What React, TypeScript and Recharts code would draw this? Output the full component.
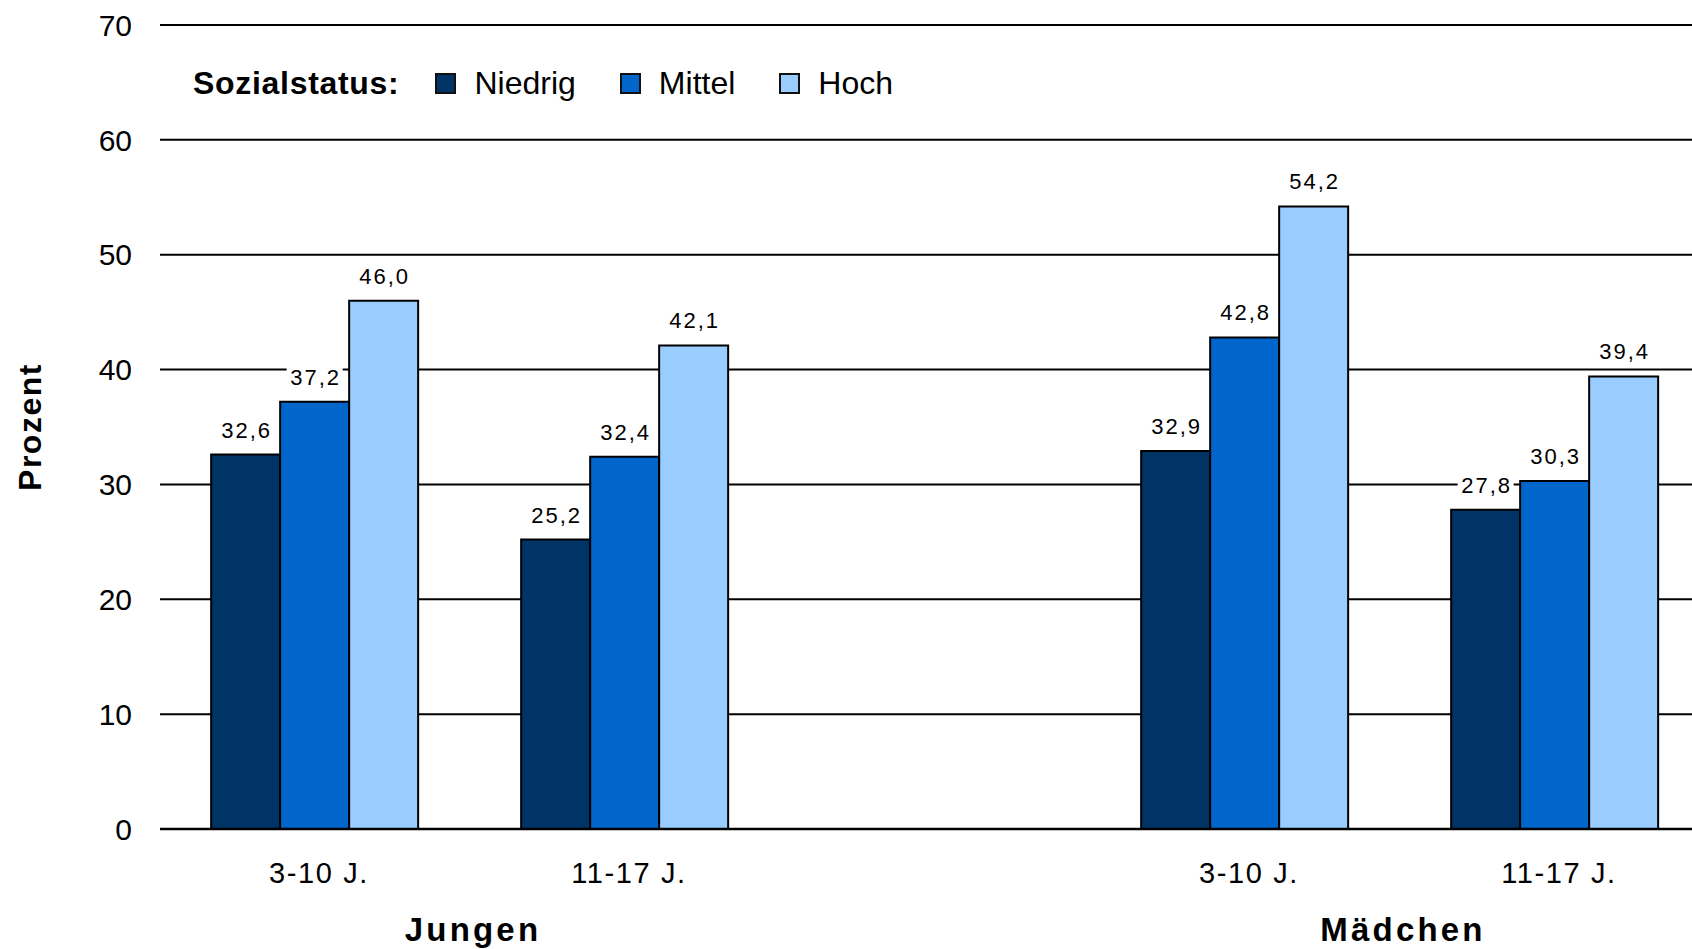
import React from "react";
import { BarChart, Bar, XAxis, YAxis, CartesianGrid, LabelList } from "recharts";

// Werte aus der Grafik (Prozent); die leere Kategorie trennt Jungen und Mädchen
const ALTERSGRUPPEN = ["3-10 J.", "11-17 J.", "", "3-10 J.", "11-17 J."];
const NIEDRIG = [32.6, 25.2, null, 32.9, 27.8];
const MITTEL = [37.2, 32.4, null, 42.8, 30.3];
const HOCH = [46.0, 42.1, null, 54.2, 39.4];

// Geschlecht, mittig zwischen je zwei Altersgruppen (Index-Einheiten)
const GESCHLECHT = ["Jungen", "Mädchen"];
const GESCHLECHT_POS = [0.5, 3.5];

const Y_TICKS = [0, 10, 20, 30, 40, 50, 60, 70];

const SERIEN = [
  { key: "niedrig", name: "Niedrig", farbe: "#003366" },
  { key: "mittel", name: "Mittel", farbe: "#0066CC" },
  { key: "hoch", name: "Hoch", farbe: "#99CCFF" },
];

const daten = ALTERSGRUPPEN.map((alter, i) => ({
  idx: i,
  alter,
  niedrig: NIEDRIG[i],
  mittel: MITTEL[i],
  hoch: HOCH[i],
}));

const FONT = "'Liberation Sans', Arial, Helvetica, sans-serif";

function WertLabel(props: any) {
  const { x, y, width, value } = props;
  if (value == null) return null;
  const cx = Number(x) + Number(width) / 2;
  const text = Number(value).toFixed(1).replace(".", ",");
  const w = text.length * 12 + 8;
  return (
    <g>
      <rect x={cx - w / 2} y={Number(y) - 37} width={w} height={26} fill="#fff" />
      <text x={cx + 1} y={Number(y) - 17} textAnchor="middle" fontSize={22} letterSpacing={2} fill="#000">
        {text}
      </text>
    </g>
  );
}

function AlterTick(props: any) {
  const { x, y, payload } = props;
  const label = ALTERSGRUPPEN[payload.value];
  if (!label) return null;
  return (
    <text x={x + 4} y={y + 54} textAnchor="middle" fontSize={29} letterSpacing={1.6} fill="#000">
      {label}
    </text>
  );
}

function GeschlechtTick(props: any) {
  const { x, y, payload } = props;
  const i = GESCHLECHT_POS.indexOf(payload.value);
  if (i < 0) return null;
  return (
    <text x={x + 3} y={y + 52} textAnchor="middle" fontSize={33} fontWeight="bold" letterSpacing={3.2} fill="#000">
      {GESCHLECHT[i]}
    </text>
  );
}

function ProzentLabel(props: any) {
  const { viewBox } = props;
  const cx = viewBox.x + 41;
  const cy = viewBox.y + viewBox.height / 2;
  return (
    <text
      x={cx}
      y={cy}
      transform={`rotate(-90, ${cx}, ${cy})`}
      textAnchor="middle"
      fontSize={32}
      fontWeight="bold"
      letterSpacing={1.5}
      fill="#000"
    >
      Prozent
    </text>
  );
}

function Legende() {
  return (
    <div
      style={{
        position: "absolute",
        left: 193,
        top: 65,
        display: "flex",
        alignItems: "center",
        lineHeight: "36px",
        fontSize: 32,
        color: "#000",
      }}
    >
      <span style={{ fontWeight: "bold", letterSpacing: 0.7, marginRight: 36 }}>Sozialstatus:</span>
      {SERIEN.map((s) => (
        <span key={s.key} style={{ display: "flex", alignItems: "center", marginRight: 44 }}>
          <span
            style={{
              display: "inline-block",
              width: 21,
              height: 21,
              boxSizing: "border-box",
              border: "2px solid #111",
              background: s.farbe,
              marginRight: 18,
            }}
          />
          {s.name}
        </span>
      ))}
    </div>
  );
}

export default function App() {
  return (
    <div
      style={{
        position: "relative",
        width: 1692,
        height: 949,
        overflow: "hidden",
        background: "#fff",
        fontFamily: FONT,
      }}
    >
      <style>{"body{margin:0;overflow:hidden}"}</style>
      <BarChart
        width={1720}
        height={949}
        data={daten}
        margin={{ top: 25, right: 10, left: 0, bottom: 0 }}
        barCategoryGap="16.5%"
        barGap={0}
      >
        <CartesianGrid vertical={false} stroke="#000" strokeWidth={2} />
        <XAxis
          dataKey="idx"
          type="category"
          interval={0}
          height={60}
          tickLine={false}
          tickSize={0}
          tickMargin={0}
          axisLine={{ stroke: "#000", strokeWidth: 2.5 }}
          tick={<AlterTick />}
        />
        <XAxis
          xAxisId="geschlecht"
          dataKey="idx"
          type="number"
          domain={[-0.5, 4.5]}
          ticks={GESCHLECHT_POS}
          allowDataOverflow
          interval={0}
          height={60}
          axisLine={false}
          tickLine={false}
          tickSize={0}
          tickMargin={0}
          tick={<GeschlechtTick />}
        />
        <YAxis
          domain={[0, 70]}
          ticks={Y_TICKS}
          width={160}
          axisLine={false}
          tickLine={false}
          tickSize={0}
          tickMargin={28}
          tick={{ fontSize: 30, fill: "#000" }}
          label={<ProzentLabel />}
        />
        {SERIEN.map((s) => (
          <Bar
            key={s.key}
            dataKey={s.key}
            name={s.name}
            fill={s.farbe}
            stroke="#000"
            strokeWidth={2}
            isAnimationActive={false}
          >
            <LabelList dataKey={s.key} content={<WertLabel />} />
          </Bar>
        ))}
      </BarChart>
      <Legende />
    </div>
  );
}
